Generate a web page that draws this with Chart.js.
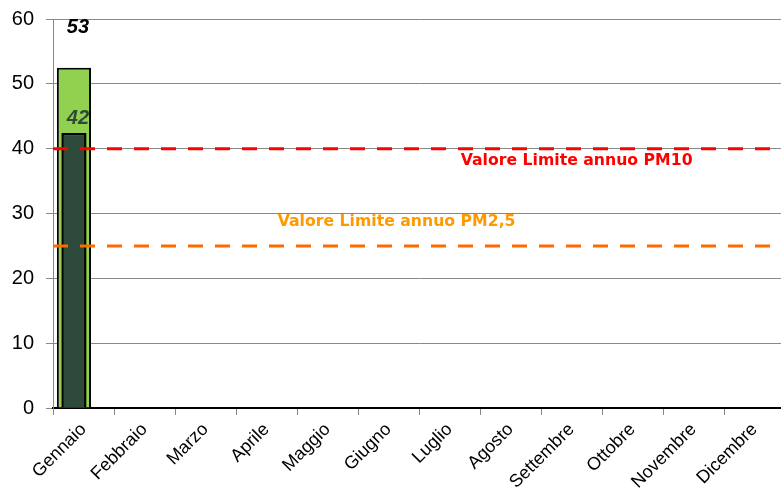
<!DOCTYPE html>
<html>
<head>
<meta charset="utf-8">
<script src="https://cdn.jsdelivr.net/npm/chart.js@4.4.0/dist/chart.umd.min.js"></script>
<style>
    html, body { margin: 0; padding: 0; background: #fff; overflow: hidden; }
    /* the original plot runs slightly past the right edge of the picture */
    #wrap { width: 781px; height: 489px; overflow: hidden; }
</style>
</head>
<body>
<div id="wrap"><canvas id="myChart" width="785" height="489"></canvas></div>
<script>
var mesi = ['Gennaio', 'Febbraio', 'Marzo', 'Aprile', 'Maggio', 'Giugno',
    'Luglio', 'Agosto', 'Settembre', 'Ottobre', 'Novembre', 'Dicembre'];
var pm10 = [52.5, null, null, null, null, null, null, null, null, null, null, null];
var pm25 = [42.4, null, null, null, null, null, null, null, null, null, null, null];
var limitePM10 = 40;
var limitePM25 = 25;
var yMin = 0, yMax = 60, yStep = 10;

var ctx = document.getElementById('myChart').getContext('2d');

// dashed limit lines + their captions
var limitiPlugin = {
    id: 'limiti',
    afterDatasetsDraw: function (chart) {
        var c = chart.ctx, area = chart.chartArea, y = chart.scales.y;
        var righe = [
            {v: limitePM10, line: '#FF0000', text: '#FF0000', label: 'Valore Limite annuo PM10', fx: 0.557, dy: 12},
            {v: limitePM25, line: '#FF6A00', text: '#FF9900', label: 'Valore Limite annuo PM2,5', fx: 0.307, dy: -24}
        ];
        c.save();
        righe.forEach(function (r) {
            var py = y.getPixelForValue(r.v);
            c.beginPath();
            c.setLineDash([15, 12]);
            c.lineWidth = 3;
            c.strokeStyle = r.line;
            c.moveTo(area.left, py);
            c.lineTo(area.right, py);
            c.stroke();
            c.setLineDash([]);
            c.fillStyle = r.text;
            c.font = 'bold 15.7px "DejaVu Sans"';
            c.textAlign = 'left';
            c.textBaseline = 'middle';
            c.fillText(r.label, area.left + area.width * r.fx, py + r.dy);
        });
        c.restore();
    }
};

// value labels above the bars
var etichettePlugin = {
    id: 'etichette',
    afterDraw: function (chart) {
        var c = chart.ctx;
        var stili = [{color: '#000', dy: -40}, {color: '#2E4A3A', dy: -15}];
        c.save();
        c.font = 'italic bold 20px "Liberation Sans"';
        c.textAlign = 'center';
        c.textBaseline = 'middle';
        [0, 1].forEach(function (di) {
            var meta = chart.getDatasetMeta(di);
            var ds = chart.data.datasets[di];
            meta.data.forEach(function (bar, i) {
                if (ds.data[i] == null) return;
                c.fillStyle = stili[di].color;
                c.fillText(Math.round(ds.data[i]), bar.x + 4, bar.y + stili[di].dy);
            });
        });
        c.restore();
    }
};

var myChart = new Chart(ctx, {
    type: 'bar',
    data: {
        labels: mesi,
        datasets: [{
            label: 'PM10',
            data: pm10,
            stack: 'pm',
            order: 2,
            backgroundColor: '#92D050',
            borderColor: '#000',
            borderWidth: 2,
            barPercentage: 1.79,
            categoryPercentage: 0.626
        }, {
            label: 'PM2,5',
            data: pm25,
            stack: 'pm',
            order: 1,
            backgroundColor: '#2E4A3A',
            borderColor: '#000',
            borderWidth: 2.5,
            barPercentage: 1.32,
            categoryPercentage: 0.626
        }, {
            // empty slot, keeps the bars left of the category centre like the original
            label: '',
            data: mesi.map(function () { return null; }),
            stack: 'vuoto',
            order: 3,
            categoryPercentage: 0.626
        }]
    },
    options: {
        responsive: false,
        animation: false,
        layout: {padding: {top: 19, right: 0, left: 0, bottom: 0}},
        plugins: {
            legend: {display: false},
            tooltip: {enabled: false}
        },
        scales: {
            x: {
                grid: {drawOnChartArea: false, color: '#888', tickLength: 7, offset: true},
                border: {color: '#000', width: 2},
                ticks: {
                    color: '#000',
                    font: {family: '"Liberation Sans"', size: 18},
                    minRotation: 45,
                    maxRotation: 45,
                    autoSkip: false,
                    padding: 4
                },
                afterFit: function (scale) {
                    scale.height = 81;
                    scale.paddingLeft = 0;
                    scale.paddingRight = 0;
                }
            },
            y: {
                stacked: false,
                min: yMin,
                max: yMax,
                grid: {color: '#888', tickLength: 7},
                border: {color: '#888'},
                ticks: {
                    stepSize: yStep,
                    color: '#000',
                    font: {family: '"Liberation Sans"', size: 20},
                    padding: 12
                },
                afterFit: function (scale) {
                    scale.width = 53;
                    scale.paddingTop = 0;
                    scale.paddingBottom = 0;
                }
            }
        }
    },
    plugins: [limitiPlugin, etichettePlugin]
});
</script>
</body>
</html>
